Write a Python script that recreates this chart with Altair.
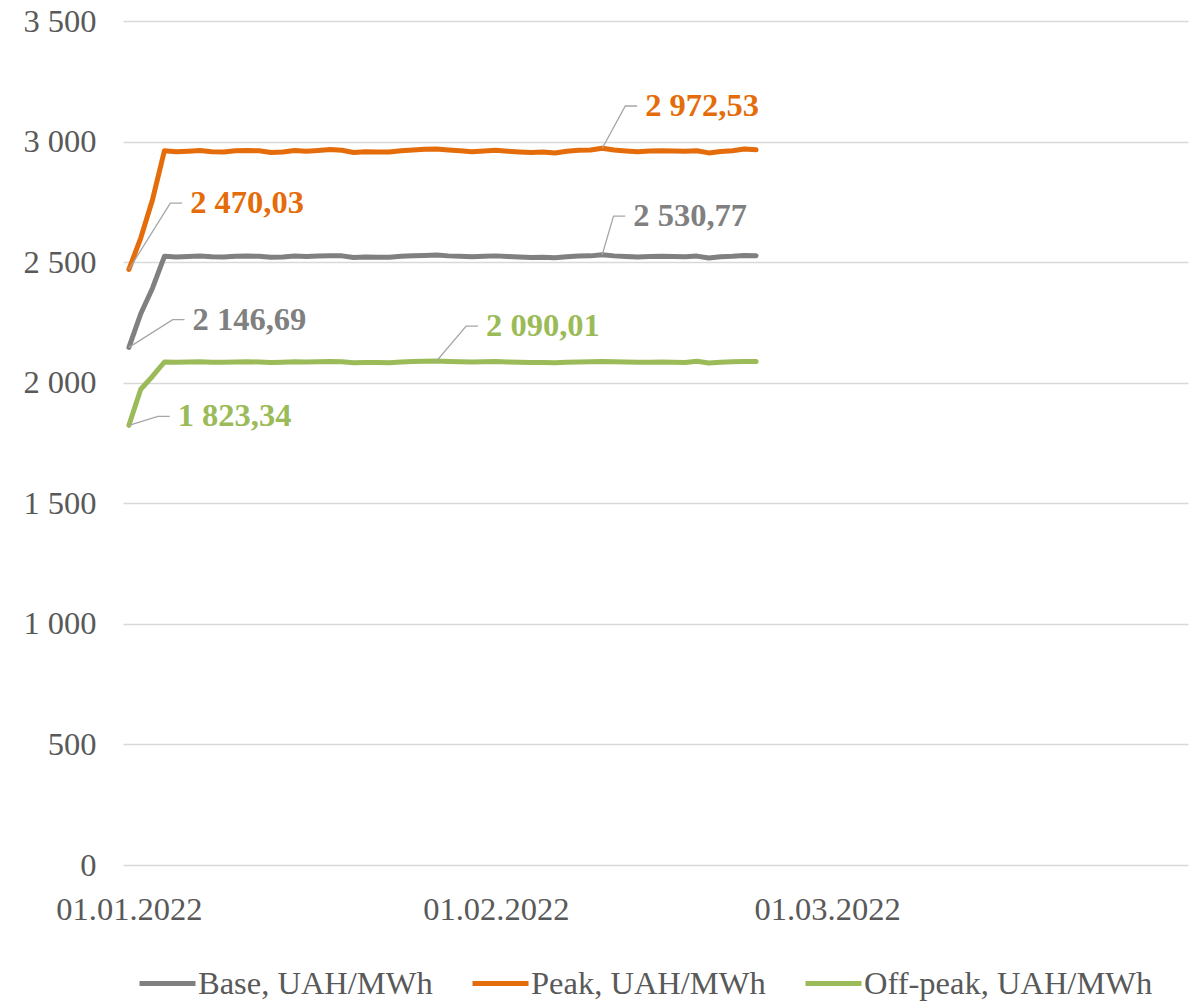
import altair as alt
import pandas as pd

# ---------------- data ----------------
start_date = "2022-01-01"
series_names = ["Base, UAH/MWh", "Peak, UAH/MWh", "Off-peak, UAH/MWh"]
series_colors = ["#808080", "#E46C0A", "#9BBB59"]

base = [2146.69, 2286, 2393, 2524, 2521, 2523, 2525, 2522, 2521, 2524,
        2525, 2524, 2520, 2521, 2525, 2523, 2525, 2527, 2526, 2519,
        2521, 2520, 2520, 2524, 2527, 2528, 2530, 2526, 2524, 2522,
        2524, 2526, 2523, 2521, 2519, 2520, 2518, 2522, 2525, 2526,
        2530.77, 2526, 2523, 2521, 2523, 2524, 2523, 2522, 2525, 2517,
        2522, 2524, 2528, 2527]
peak = [2470.03, 2600, 2760, 2962, 2958, 2960, 2963, 2958, 2957, 2962,
        2963, 2962, 2955, 2957, 2963, 2960, 2963, 2967, 2964, 2955,
        2958, 2957, 2957, 2962, 2965, 2968, 2969, 2965, 2962, 2958,
        2961, 2964, 2960, 2957, 2955, 2957, 2953, 2960, 2964, 2965,
        2972.53, 2965, 2961, 2958, 2961, 2962, 2961, 2960, 2962, 2953,
        2959, 2962, 2969, 2966]
offpeak = [1823.34, 1973, 2027, 2086, 2085, 2086, 2087, 2085, 2085, 2086,
           2087, 2086, 2084, 2085, 2087, 2086, 2087, 2088, 2087, 2083,
           2084, 2084, 2083, 2086, 2088, 2089, 2090.01, 2088, 2087, 2086,
           2087, 2088, 2086, 2085, 2084, 2084, 2083, 2085, 2086, 2087,
           2088, 2087, 2086, 2085, 2085, 2086, 2085, 2084, 2089, 2082,
           2085, 2087, 2088, 2088]

y_ticks = [0, 500, 1000, 1500, 2000, 2500, 3000, 3500]
x_tick_months = [1, 2, 3]

# labelled points: (series index, day index, elbow offset in days, elbow offset in UAH)
annotations = [
    (1, 0, 3.5, 275),
    (0, 0, 3.7, 115),
    (2, 0, 2.45, 37),
    (2, 26, 2.5, 145),
    (1, 40, 1.95, 175),
    (0, 40, 0.95, 160),
]
leader_tail_days = 1.0

# ---------------- tables ----------------
t0 = pd.Timestamp(start_date)


def iso(days):
    return (t0 + pd.Timedelta(days=days)).strftime("%Y-%m-%dT%H:%M:%SZ")


all_series = [base, peak, offpeak]
rows = []
for name, vals in zip(series_names, all_series):
    for i, v in enumerate(vals):
        rows.append({"date": iso(i), "series": name, "value": v})
df = pd.DataFrame(rows)


def fmt_ua(v):
    return f"{v:,.2f}".replace(",", " ").replace(".", ",")


lead_rows = []
text_rows = []
for aid, (si, di, ed, ev) in enumerate(annotations):
    v = all_series[si][di]
    pts = [(di, v), (di + ed, v + ev), (di + ed + leader_tail_days, v + ev)]
    for k, (d, val) in enumerate(pts):
        lead_rows.append({"aid": aid, "k": k, "date": iso(d), "value": val})
    text_rows.append({"date": iso(di + ed + leader_tail_days), "value": v + ev,
                      "label": fmt_ua(v), "col": series_colors[si]})
lead_df = pd.DataFrame(lead_rows)
text_df = pd.DataFrame(text_rows)

# ---------------- chart ----------------
FONT = "Liberation Serif"
FS = 32.5
x_scale = alt.Scale(type="utc",
                    domain=[alt.DateTime(year=2021, month=12, date=31, hours=12, utc=True),
                            alt.DateTime(year=2022, month=3, date=31, hours=12, utc=True)])
y_scale = alt.Scale(domain=[0, 3500], nice=False)

x_axis = alt.Axis(values=[alt.DateTime(year=2022, month=m, date=1, utc=True) for m in x_tick_months],
                  labelExpr="utcFormat(datum.value, '%d.%m.%Y')", title=None, grid=False,
                  domain=False, ticks=False, tickSize=0, labelPadding=28,
                  labelFlush=False, labelOverlap=False, labelBound=False,
                  labelFont=FONT, labelFontSize=FS, labelColor="#595959")
y_axis = alt.Axis(values=y_ticks, title=None, domain=False, ticks=False, tickSize=0,
                  labelPadding=27, grid=True, gridColor="#D9D9D9", gridWidth=1.5,
                  labelExpr="replace(format(datum.value, ','), ',', ' ')",
                  labelFont=FONT, labelFontSize=FS, labelColor="#595959")

lines = alt.Chart(df).mark_line(strokeWidth=5, strokeCap="round", strokeJoin="round").encode(
    x=alt.X("date:T", scale=x_scale, axis=x_axis),
    y=alt.Y("value:Q", scale=y_scale, axis=y_axis),
    color=alt.Color("series:N",
                    scale=alt.Scale(domain=series_names, range=series_colors),
                    legend=alt.Legend(orient="none", legendX=14, legendY=932,
                                      direction="horizontal", title=None,
                                      symbolType="stroke", symbolSize=3136,
                                      symbolStrokeWidth=5, labelFont=FONT,
                                      labelFontSize=FS, labelColor="#595959",
                                      labelLimit=0, labelOffset=0,
                                      columnPadding=29, padding=0)),
)

leaders = alt.Chart(lead_df).mark_line(color="#A6A6A6", strokeWidth=1.3).encode(
    x="date:T",
    y="value:Q",
    detail="aid:N",
    order="k:Q",
)

labels = alt.Chart(text_df).mark_text(align="left", baseline="middle", dx=8,
                                      font=FONT, fontSize=FS, fontWeight="bold").encode(
    x="date:T",
    y="value:Q",
    text="label:N",
    color=alt.Color("col:N", scale=None),
)

chart = alt.layer(lines, leaders, labels).properties(
    width=1065,
    height=844,
    background="white",
    padding={"left": 115, "top": 13, "right": 4, "bottom": 137},
    autosize=alt.AutoSizeParams(type="none"),
).configure_view(stroke=None)

chart.save("out.html", embed_options={"renderer": "svg", "actions": False})
